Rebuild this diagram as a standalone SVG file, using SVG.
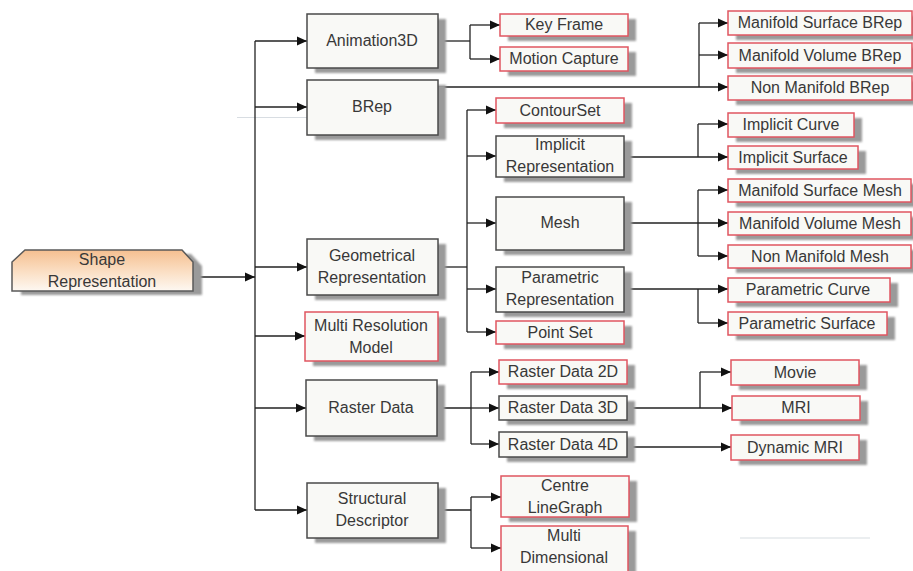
<svg xmlns="http://www.w3.org/2000/svg" width="913" height="571" viewBox="0 0 913 571">
<defs>
<marker id="arr" markerUnits="userSpaceOnUse" markerWidth="10" markerHeight="10" refX="10" refY="5" orient="auto">
<path d="M0,0.5 L10,5 L0,9.5 z" fill="#111"/>
</marker>
<linearGradient id="og" x1="0" y1="0" x2="0" y2="1">
<stop offset="0" stop-color="#f5bf90"/>
<stop offset="0.55" stop-color="#fbe0c6"/>
<stop offset="1" stop-color="#fdf8f2"/>
</linearGradient>
<filter id="blur" x="-10%" y="-10%" width="120%" height="130%"><feGaussianBlur stdDeviation="1"/></filter>
</defs>
<style>
.sh{fill:#9a9a9a;filter:url(#blur)}
.bx{fill:#f9f9f6;stroke:#4a4a4a;stroke-width:1.5}
.rd{fill:#f9f9f6;stroke:#e05560;stroke-width:1.5}
text{font-family:"Liberation Sans",Arial,sans-serif;font-size:16px;fill:#383838;text-anchor:middle}
.c line,.c polyline{stroke:#222;stroke-width:1.3;fill:none}
.a{marker-end:url(#arr)}
.faint{stroke:#d8dde2;stroke-width:1.2}
</style>
<rect width="913" height="571" fill="#ffffff"/>
<line class="faint" x1="237" y1="117.5" x2="307" y2="117.5" stroke="#b0bcc8"/>
<line class="faint" x1="740" y1="538" x2="870" y2="538"/>

<g class="c" id="connectors">
<line class="a" x1="193" y1="277" x2="255" y2="277"/>
<line x1="255" y1="41" x2="255" y2="510"/>
<line class="a" x1="255" y1="41" x2="307" y2="41"/>
<line class="a" x1="255" y1="107" x2="307" y2="107"/>
<line class="a" x1="255" y1="267" x2="307" y2="267"/>
<line class="a" x1="255" y1="336" x2="305" y2="336"/>
<line class="a" x1="255" y1="408" x2="306" y2="408"/>
<line class="a" x1="255" y1="510" x2="307" y2="510"/>

<line x1="438" y1="41" x2="470" y2="41"/>
<line x1="470" y1="25" x2="470" y2="59"/>
<line class="a" x1="470" y1="25" x2="500" y2="25"/>
<line class="a" x1="470" y1="59" x2="500" y2="59"/>

<line class="a" x1="438" y1="87" x2="728" y2="87"/>
<line x1="699" y1="23" x2="699" y2="87"/>
<line class="a" x1="699" y1="23" x2="728" y2="23"/>
<line class="a" x1="699" y1="55" x2="728" y2="55"/>

<line x1="438" y1="267" x2="467" y2="267"/>
<line x1="467" y1="110" x2="467" y2="332"/>
<line class="a" x1="467" y1="110" x2="496" y2="110"/>
<line class="a" x1="467" y1="156" x2="496" y2="156"/>
<line class="a" x1="467" y1="223" x2="496" y2="223"/>
<line class="a" x1="467" y1="289" x2="496" y2="289"/>
<line class="a" x1="467" y1="332" x2="496" y2="332"/>

<line class="a" x1="624" y1="157" x2="728" y2="157"/>
<line x1="698" y1="124" x2="698" y2="157"/>
<line class="a" x1="698" y1="124" x2="728" y2="124"/>

<line class="a" x1="624" y1="223" x2="728" y2="223"/>
<line x1="698" y1="190" x2="698" y2="256"/>
<line class="a" x1="698" y1="190" x2="728" y2="190"/>
<line class="a" x1="698" y1="256" x2="728" y2="256"/>

<line class="a" x1="624" y1="289" x2="728" y2="289"/>
<line x1="698" y1="289" x2="698" y2="323"/>
<line class="a" x1="698" y1="323" x2="728" y2="323"/>

<line x1="437" y1="408" x2="471" y2="408"/>
<line x1="471" y1="372" x2="471" y2="444"/>
<line class="a" x1="471" y1="372" x2="499" y2="372"/>
<line class="a" x1="471" y1="408" x2="499" y2="408"/>
<line class="a" x1="471" y1="444" x2="499" y2="444"/>

<line class="a" x1="627" y1="408" x2="732" y2="408"/>
<line x1="700" y1="372" x2="700" y2="408"/>
<line class="a" x1="700" y1="372" x2="731" y2="372"/>
<line class="a" x1="627" y1="447" x2="731" y2="447"/>

<line x1="438" y1="510" x2="471" y2="510"/>
<line x1="471" y1="497" x2="471" y2="548"/>
<line class="a" x1="471" y1="497" x2="501" y2="497"/>
<line class="a" x1="471" y1="548" x2="501" y2="548"/>
</g>

<g id="shape-representation">
<polygon class="sh" points="34,254 191,254 202,266 202,295 21,295 21,266"/>
<polygon points="25,250 182,250 193,262 193,291 12,291 12,262" fill="url(#og)" stroke="#5a5a5a" stroke-width="1.5"/>
<text x="102" y="265">Shape</text>
<text x="102" y="287">Representation</text>
</g>

<g id="animation3d"><rect class="sh" x="315" y="19" width="131" height="54"/><rect class="bx" x="307" y="14" width="131" height="54"/><text x="372" y="46">Animation3D</text></g>
<g id="brep"><rect class="sh" x="315" y="85" width="131" height="55"/><rect class="bx" x="307" y="80" width="131" height="55"/><text x="372" y="112">BRep</text></g>
<g id="geometrical-representation"><rect class="sh" x="315" y="244" width="131" height="56"/><rect class="bx" x="307" y="239" width="131" height="56"/><text x="372" y="261">Geometrical</text><text x="372" y="283">Representation</text></g>
<g id="multi-resolution-model"><rect class="sh" x="313" y="317" width="133" height="49"/><rect class="rd" x="305" y="312" width="133" height="49"/><text x="371" y="331">Multi Resolution</text><text x="371" y="353">Model</text></g>
<g id="raster-data"><rect class="sh" x="314" y="385" width="131" height="56"/><rect class="bx" x="306" y="380" width="131" height="56"/><text x="371" y="413">Raster Data</text></g>
<g id="structural-descriptor"><rect class="sh" x="315" y="488" width="131" height="55"/><rect class="bx" x="307" y="483" width="131" height="55"/><text x="372" y="504">Structural</text><text x="372" y="526">Descriptor</text></g>

<g id="key-frame"><rect class="sh" x="508" y="19" width="128" height="22"/><rect class="rd" x="500" y="14" width="128" height="22"/><text x="564" y="30">Key Frame</text></g>
<g id="motion-capture"><rect class="sh" x="508" y="52" width="128" height="24"/><rect class="rd" x="500" y="47" width="128" height="24"/><text x="564" y="64">Motion Capture</text></g>
<g id="contourset"><rect class="sh" x="504" y="103" width="128" height="25"/><rect class="rd" x="496" y="98" width="128" height="25"/><text x="560" y="116">ContourSet</text></g>
<g id="implicit-representation"><rect class="sh" x="504" y="141" width="128" height="41"/><rect class="bx" x="496" y="136" width="128" height="41"/><text x="560" y="150">Implicit</text><text x="560" y="172">Representation</text></g>
<g id="mesh"><rect class="sh" x="504" y="202" width="128" height="53"/><rect class="bx" x="496" y="197" width="128" height="53"/><text x="560" y="228">Mesh</text></g>
<g id="parametric-representation"><rect class="sh" x="504" y="272" width="128" height="45"/><rect class="bx" x="496" y="267" width="128" height="45"/><text x="560" y="283">Parametric</text><text x="560" y="305">Representation</text></g>
<g id="point-set"><rect class="sh" x="504" y="326" width="128" height="23"/><rect class="rd" x="496" y="321" width="128" height="23"/><text x="560" y="338">Point Set</text></g>
<g id="raster-data-2d"><rect class="sh" x="507" y="365" width="128" height="24"/><rect class="rd" x="499" y="360" width="128" height="24"/><text x="563" y="377">Raster Data 2D</text></g>
<g id="raster-data-3d"><rect class="sh" x="507" y="401" width="128" height="24"/><rect class="bx" x="499" y="396" width="128" height="24"/><text x="563" y="413">Raster Data 3D</text></g>
<g id="raster-data-4d"><rect class="sh" x="507" y="437" width="128" height="25"/><rect class="bx" x="499" y="432" width="128" height="25"/><text x="563" y="450">Raster Data 4D</text></g>
<g id="centre-linegraph"><rect class="sh" x="509" y="481" width="128" height="41"/><rect class="rd" x="501" y="476" width="128" height="41"/><text x="565" y="491">Centre</text><text x="565" y="513">LineGraph</text></g>
<g id="multi-dimensional"><rect class="sh" x="509" y="531" width="127" height="46"/><rect class="rd" x="501" y="526" width="127" height="46"/><text x="564" y="541">Multi</text><text x="564" y="563">Dimensional</text></g>

<g id="manifold-surface-brep"><rect class="sh" x="736" y="16" width="184" height="24"/><rect class="rd" x="728" y="11" width="184" height="24"/><text x="820" y="28">Manifold Surface BRep</text></g>
<g id="manifold-volume-brep"><rect class="sh" x="736" y="48" width="184" height="25"/><rect class="rd" x="728" y="43" width="184" height="25"/><text x="820" y="61">Manifold Volume BRep</text></g>
<g id="non-manifold-brep"><rect class="sh" x="736" y="81" width="184" height="24"/><rect class="rd" x="728" y="76" width="184" height="24"/><text x="820" y="93">Non Manifold BRep</text></g>
<g id="implicit-curve"><rect class="sh" x="736" y="118" width="126" height="24"/><rect class="rd" x="728" y="113" width="126" height="24"/><text x="791" y="130">Implicit Curve</text></g>
<g id="implicit-surface"><rect class="sh" x="736" y="151" width="130" height="23"/><rect class="rd" x="728" y="146" width="130" height="23"/><text x="793" y="163">Implicit Surface</text></g>
<g id="manifold-surface-mesh"><rect class="sh" x="736" y="184" width="184" height="23"/><rect class="rd" x="728" y="179" width="183" height="23"/><text x="820" y="196">Manifold Surface Mesh</text></g>
<g id="manifold-volume-mesh"><rect class="sh" x="736" y="217" width="184" height="23"/><rect class="rd" x="728" y="212" width="183" height="23"/><text x="820" y="229">Manifold Volume Mesh</text></g>
<g id="non-manifold-mesh"><rect class="sh" x="736" y="250" width="184" height="23"/><rect class="rd" x="728" y="245" width="183" height="23"/><text x="820" y="262">Non Manifold Mesh</text></g>
<g id="parametric-curve"><rect class="sh" x="736" y="283" width="162" height="24"/><rect class="rd" x="728" y="278" width="162" height="24"/><text x="808" y="295">Parametric Curve</text></g>
<g id="parametric-surface"><rect class="sh" x="736" y="317" width="159" height="23"/><rect class="rd" x="728" y="312" width="159" height="23"/><text x="807" y="329">Parametric Surface</text></g>
<g id="movie"><rect class="sh" x="739" y="365" width="128" height="25"/><rect class="rd" x="731" y="360" width="128" height="25"/><text x="795" y="378">Movie</text></g>
<g id="mri"><rect class="sh" x="740" y="401" width="128" height="24"/><rect class="rd" x="732" y="396" width="128" height="24"/><text x="796" y="413">MRI</text></g>
<g id="dynamic-mri"><rect class="sh" x="739" y="440" width="128" height="25"/><rect class="rd" x="731" y="435" width="128" height="25"/><text x="795" y="453">Dynamic MRI</text></g>
</svg>
